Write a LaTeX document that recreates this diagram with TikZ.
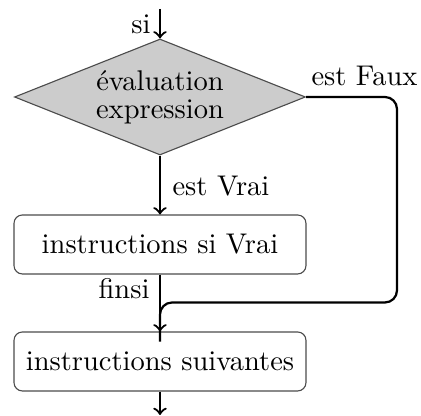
\documentclass[tikz,border=0pt]{standalone}
\usetikzlibrary{shapes.geometric}
\begin{document}
\begin{tikzpicture}[x=0.358pt,y=-0.358pt,
  conn/.style={thick,->},
  txt/.style={font=\fontsize{10.2}{10.1}\selectfont},
  boxstyle/.style={txt,draw=black!70,rounded corners=3pt,minimum width=292*0.358pt,minimum height=59*0.358pt,inner sep=0pt},
  decision/.style={txt,diamond,draw=black!70,fill=black!20,aspect=2.5,inner sep=0pt,minimum width=291*0.358pt,minimum height=116*0.358pt,align=center},
  lbl/.style={txt,inner sep=0pt}]
\useasboundingbox (0,0) rectangle (421,416);
\coordinate (start) at (160,9);
\node[decision] (eval) at (160,97) {évaluation\\expression};
\node[boxstyle] (vrai) at (160,244.5) {instructions si Vrai};
\node[boxstyle] (suiv) at (160,361.5) {instructions suivantes};
\coordinate (end) at (160,415);
\coordinate (merge) at (160,302.5);
\coordinate (corner1) at (397,97);
\coordinate (corner2) at (397,302.5);
\draw[conn] (start) -- (eval.north);
\node[lbl,anchor=base east] (si) at (151,34) {si};
\draw[conn] (eval.south) -- (vrai.north);
\node[lbl,anchor=base west] (vlbl) at (172,196) {est Vrai};
\draw[conn] (vrai.south) -- (suiv.north);
\node[lbl,anchor=base east] (finsi) at (150,299) {finsi};
\draw[thick,rounded corners=4.3pt] (eval.east) -- (corner1) -- (corner2) -- (merge) -- ([yshift=-14]merge);
\node[lbl,anchor=base west] (faux) at (311,86) {est Faux};
\draw[conn] (suiv.south) -- (end);
\end{tikzpicture}
\end{document}
